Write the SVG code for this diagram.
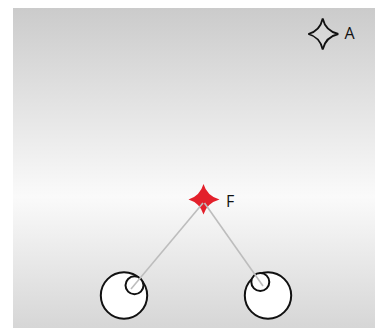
<svg xmlns="http://www.w3.org/2000/svg" width="375" height="330" viewBox="0 0 375 330">
<defs>
<linearGradient id="bg" x1="0" y1="0" x2="0" y2="1">
<stop offset="0" stop-color="#cbcbcb"/>
<stop offset="0.59" stop-color="#fafafa"/>
<stop offset="1" stop-color="#d6d6d6"/>
</linearGradient>
</defs>
<style>
.lbl{font-family:"Open Sans","Noto Sans","Liberation Sans",sans-serif;font-size:16px;fill:#111}
.ring{fill:#fff;stroke:#111;stroke-width:2}
.link{stroke:#bdbdbd;stroke-width:1.6;fill:none}
</style>
<rect x="13" y="8" width="362" height="320" fill="url(#bg)"/>
<g id="nodeA">
<path d="M322.7,18.5 Q325.5,31 338.3,34 Q325.5,37 322.7,49.5 Q320,37 308.3,34 Q320,31 322.7,18.5 Z" fill="#fff" fill-opacity="0.15" stroke="#111" stroke-width="1.8" stroke-linejoin="miter"/>
<text class="lbl" x="344.5" y="39">A</text>
</g>
<g id="nodeF">
<path d="M203.5,184 Q207,196 219.5,199.5 Q207,203 203.5,214.5 Q200,203 188.5,199.5 Q200,196 203.5,184 Z" fill="#e3202b"/>
<text class="lbl" x="226" y="206.5">F</text>
</g>
<g id="nodeL">
<circle class="ring" cx="124" cy="295.5" r="23.2"/>
<circle class="ring" cx="134.5" cy="285.3" r="9"/>
</g>
<g id="nodeR">
<circle class="ring" cx="268" cy="295.5" r="23.2"/>
<circle class="ring" cx="260.3" cy="282" r="9"/>
</g>
<g id="connectors">
<line class="link" x1="203" y1="203" x2="131" y2="289"/>
<line class="link" x1="204.5" y1="203" x2="263" y2="286"/>
</g>
</svg>
